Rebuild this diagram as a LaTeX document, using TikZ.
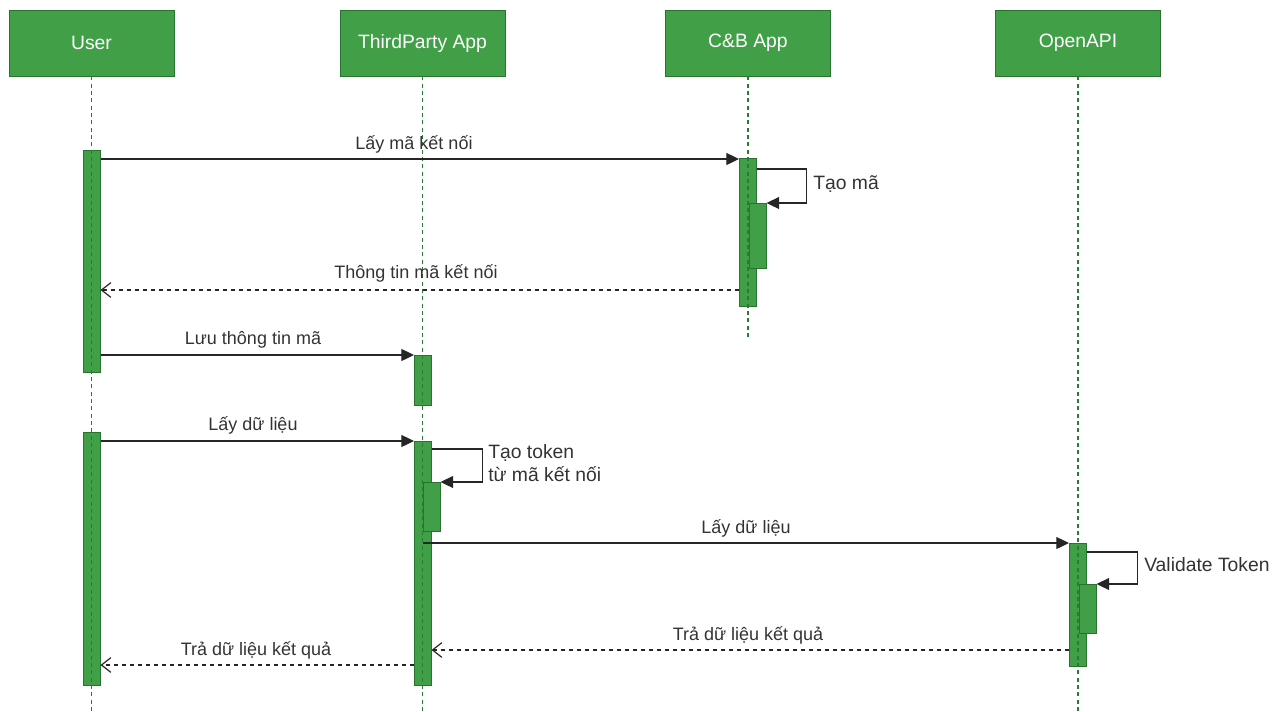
\documentclass[tikz,border=0pt]{standalone}
\usepackage{fontspec}
\setmainfont{Liberation Sans}
\usetikzlibrary{arrows.meta}
\definecolor{hdrfill}{RGB}{65,160,71}
\definecolor{hdrdraw}{RGB}{40,115,45}
\definecolor{lifec}{RGB}{40,125,50}
\definecolor{txtc}{RGB}{51,51,51}
\begin{document}
\begin{tikzpicture}[x=0.75pt,y=-0.75pt,
 hdr/.style={draw=hdrdraw, fill=hdrfill, minimum width=123.75pt, minimum height=49.5pt, inner sep=0, text=white, font=\fontsize{14.5}{16}\selectfont},
 act/.style={draw=hdrdraw, fill=hdrfill, anchor=north west, minimum width=12.75pt, inner sep=0},
 life/.style={draw=lifec, dash pattern=on 3pt off 2.5pt, line width=0.8pt},
 msg/.style={draw=black!85, line width=0.9pt, -{Triangle[length=9.5pt,width=9pt]}},
 ret/.style={draw=black!85, line width=0.9pt, dash pattern=on 3pt off 3pt, -{Straight Barb[length=7pt,width=11pt]}},
 lbl/.style={text=txtc, font=\fontsize{13.5}{15}\selectfont, inner sep=0},
 slbl/.style={text=txtc, font=\fontsize{14.5}{17.5}\selectfont, inner sep=0, anchor=west, align=left},
]
\useasboundingbox (0,0) rectangle (1284,711);
% headers
\node[hdr] (user) at (91.5,43) {User};
\node[hdr] (tp) at (422.5,43) {ThirdParty App};
\node[hdr] (cb) at (748,43) {C\&B App};
\node[hdr] (oa) at (1078,43) {OpenAPI};
% activations
\node[act, minimum height=166.5pt] (u1) at (83,150) {};
\node[act, minimum height=189.75pt] (u2) at (83,432) {};
\node[act, minimum height=111pt] (c1) at (739,158) {};
\node[act, minimum height=48.75pt] (c2) at (749,203) {};
\node[act, minimum height=37.5pt] (t1) at (414,355) {};
\node[act, minimum height=183pt] (t2) at (414,441) {};
\node[act, minimum height=36.75pt] (t3) at (423,482) {};
\node[act, minimum height=92.25pt] (o1) at (1069,543) {};
\node[act, minimum height=36.75pt] (o2) at (1079,584) {};
% lifelines
\coordinate (userEnd) at (91.5,711);
\coordinate (tpEnd) at (422.5,711);
\coordinate (cbEnd) at (748,338);
\coordinate (oaEnd) at (1078,711);
\draw[life] (user.south) -- (userEnd);
\draw[life] (tp.south) -- (tpEnd);
\draw[life] (cb.south) -- (cbEnd);
\draw[life] (oa.south) -- (oaEnd);
% messages
\draw[msg] (u1.east |- 0,159) -- (c1.west |- 0,159);
\node[lbl] (m1) at (414,144) {Lấy mã kết nối};
\draw[msg] (c1.north east) ++(0,11) -- ++(50,0) |- (c2.north east);
\node[slbl] (s1) at (813,184) {Tạo mã};
\draw[ret] (c1.west |- 0,290) -- (u1.east |- 0,290);
\node[lbl] (m2) at (416,273) {Thông tin mã kết nối};
\draw[msg] (u1.east |- 0,355) -- (t1.north west);
\node[lbl] (m3) at (253,340) {Lưu thông tin mã};
\draw[msg] (u2.east |- 0,441) -- (t2.north west);
\node[lbl] (m4) at (253,425) {Lấy dữ liệu};
\draw[msg] (t2.north east) ++(0,8) -- ++(51,0) |- (t3.north east);
\node[slbl] (s2) at (488,463) {Tạo token\\từ mã kết nối};
\draw[msg] (tp.south |- o1.north west) -- (o1.north west);
\node[lbl] (m5) at (746,528) {Lấy dữ liệu};
\draw[msg] (o1.north east) ++(0,9) -- ++(51,0) |- (o2.north east);
\node[slbl] (s3) at (1144,565) {Validate Token};
\draw[ret] (o1.west |- 0,650) -- (t2.east |- 0,650);
\node[lbl] (m6) at (748,635) {Trả dữ liệu kết quả};
\draw[ret] (t2.west |- 0,665) -- (u2.east |- 0,665);
\node[lbl] (m7) at (256,650) {Trả dữ liệu kết quả};
\end{tikzpicture}
\end{document}
